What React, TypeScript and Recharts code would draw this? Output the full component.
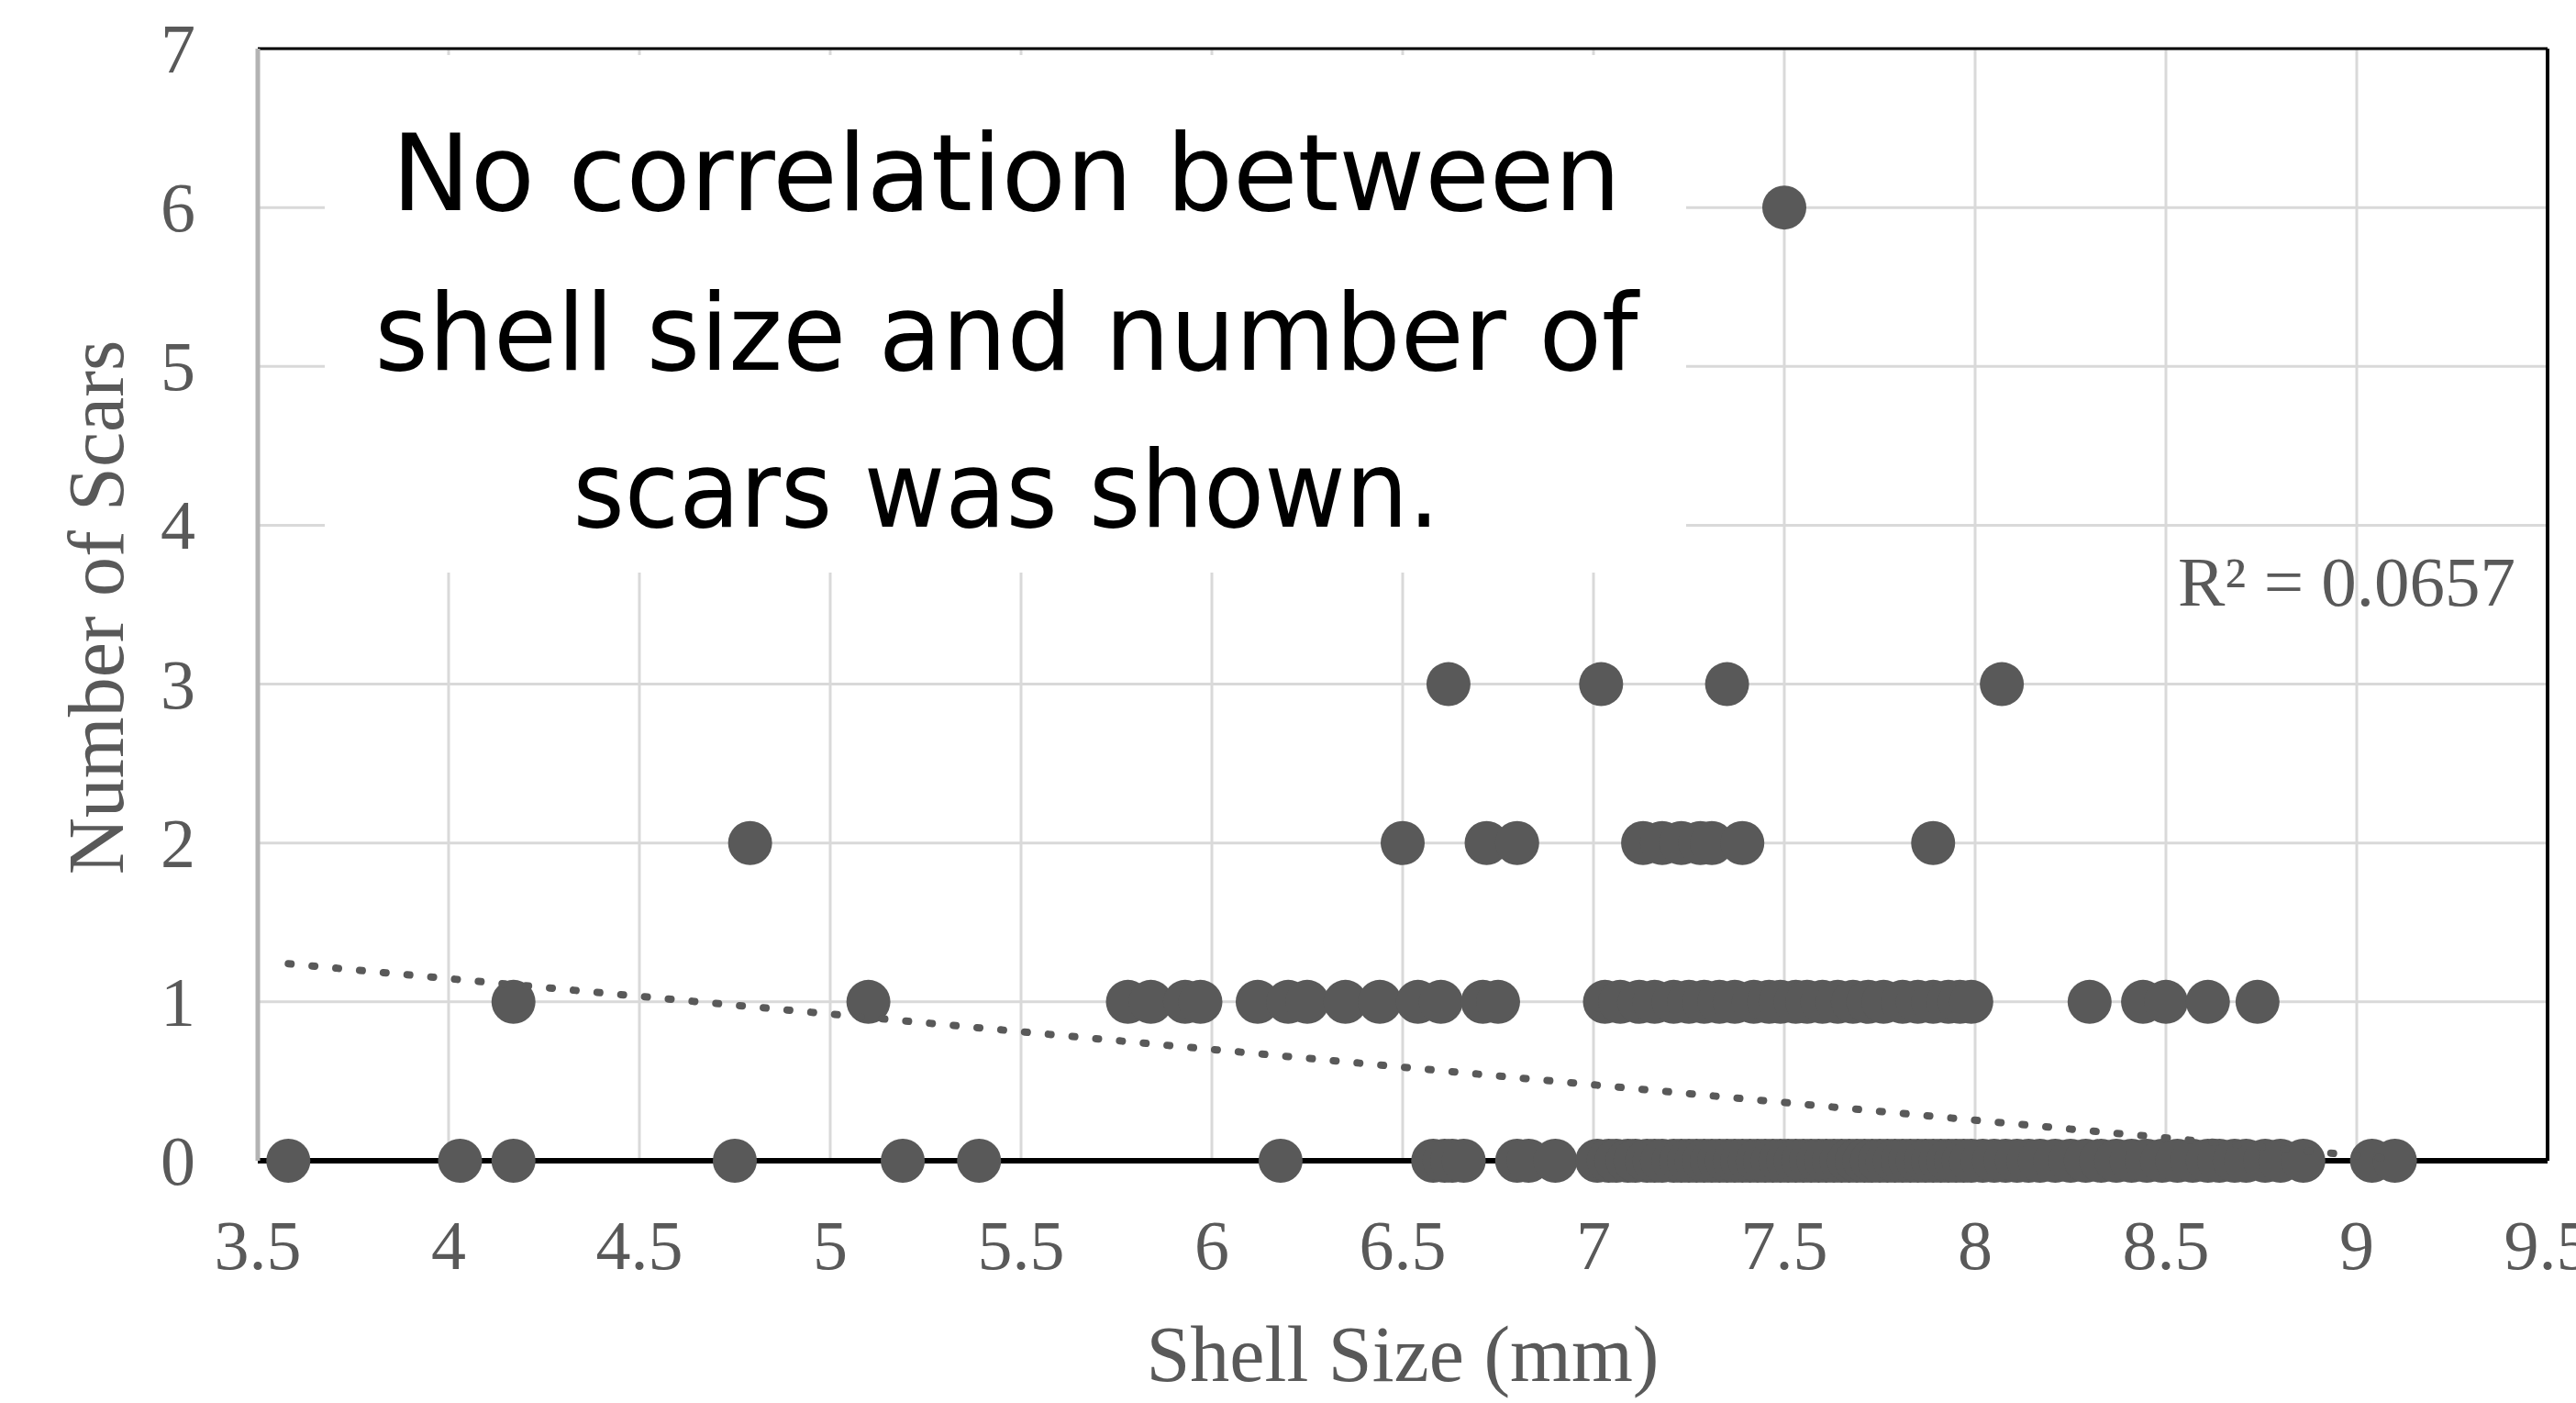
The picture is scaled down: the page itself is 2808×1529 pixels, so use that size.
import React from 'react';
import {
  ScatterChart,
  Scatter,
  XAxis,
  YAxis,
  CartesianGrid,
  ReferenceLine,
} from 'recharts';

// Shell sizes (mm) grouped by number of scars
const shellsWith0Scars: number[] = [
  3.58, 4.03, 4.17, 4.75, 5.19, 5.39, 6.18, 6.58, 6.61, 6.63, 6.66, 6.8, 6.83, 6.9,
  7.01, 7.04, 7.06, 7.09, 7.11, 7.14, 7.16, 7.18, 7.21, 7.23, 7.25, 7.27, 7.29, 7.31,
  7.33, 7.35, 7.37, 7.39, 7.41, 7.43, 7.45, 7.47, 7.49, 7.51, 7.53, 7.55, 7.57, 7.59,
  7.61, 7.63, 7.65, 7.67, 7.69, 7.71, 7.73, 7.75, 7.77, 7.79, 7.81, 7.83, 7.85, 7.87,
  7.89, 7.91, 7.93, 7.95, 7.97, 7.99, 8.02, 8.05, 8.08, 8.11, 8.14, 8.17, 8.21, 8.25,
  8.29, 8.33, 8.37, 8.41, 8.45, 8.49, 8.53, 8.57, 8.61, 8.64, 8.68, 8.71, 8.76, 8.8,
  8.86, 9.04, 9.1,
];
const shellsWith1Scar: number[] = [
  4.17, 5.1, 5.78, 5.84, 5.93, 5.97, 6.12, 6.2, 6.25, 6.35, 6.44, 6.54, 6.6, 6.71, 6.75,
  7.03, 7.07, 7.12, 7.16, 7.21, 7.25, 7.29, 7.33, 7.37, 7.42, 7.46, 7.49, 7.53, 7.56,
  7.6, 7.64, 7.68, 7.72, 7.76, 7.81, 7.85, 7.89, 7.93, 7.96, 7.99, 8.3, 8.44, 8.5, 8.61,
  8.74,
];
const shellsWith2Scars: number[] = [4.79, 6.5, 6.72, 6.8, 7.13, 7.18, 7.23, 7.28, 7.31, 7.39, 7.89];
const shellsWith3Scars: number[] = [6.62, 7.02, 7.35, 8.07];
const shellsWith6Scars: number[] = [7.5];

// Linear trendline endpoints
const trendX: number[] = [3.58, 9.1];
const trendY: number[] = [1.24, 0.01];

const xTicks: number[] = [3.5, 4, 4.5, 5, 5.5, 6, 6.5, 7, 7.5, 8, 8.5, 9, 9.5];
const yTicks: number[] = [0, 1, 2, 3, 4, 5, 6, 7];

const annotationLines: string[] = [
  'No correlation between',
  'shell size and number of',
  'scars was shown.',
];
const rSquaredText = 'R\u00B2 = 0.0657';
const xTitle = 'Shell Size (mm)';
const yTitle = 'Number of Scars';

const points = [
  ...shellsWith0Scars.map((x) => ({ x, y: 0 })),
  ...shellsWith1Scar.map((x) => ({ x, y: 1 })),
  ...shellsWith2Scars.map((x) => ({ x, y: 2 })),
  ...shellsWith3Scars.map((x) => ({ x, y: 3 })),
  ...shellsWith6Scars.map((x) => ({ x, y: 6 })),
];
const trend = trendX.map((x, i) => ({ x, y: trendY[i] }));

const GRAY = '#595959';
const SERIF = '"Liberation Serif", "Times New Roman", serif';

const XTick = (props: any) => (
  <text
    x={props.x}
    y={props.y + 118}
    textAnchor="middle"
    fontFamily={SERIF}
    fontSize={76}
    fill={GRAY}
  >
    {String(props.payload.value)}
  </text>
);

const YTick = (props: any) => (
  <text
    x={props.x - 68}
    y={props.y + 26}
    textAnchor="end"
    fontFamily={SERIF}
    fontSize={76}
    fill={GRAY}
  >
    {String(props.payload.value)}
  </text>
);

const Dot = (props: any) => <circle cx={props.cx} cy={props.cy} r={24} fill={GRAY} />;
const NoShape = () => <g />;

const annotationWidths = [1340, 1377, 945];
const annotationBaselines = [229, 403, 574];

export default function App() {
  return (
    <div style={{ position: 'relative', width: 2808, height: 1529, background: '#fff', overflow: 'hidden' }}>
      <style>{'html,body{margin:0;padding:0;overflow:hidden;background:#fff}'}</style>
      <ScatterChart
        width={2808}
        height={1529}
        margin={{ top: 53, right: 31, bottom: 0, left: 0 }}
      >
        <CartesianGrid stroke="#d9d9d9" strokeWidth={3} />
        <XAxis
          type="number"
          dataKey="x"
          domain={[3.5, 9.5]}
          ticks={xTicks}
          interval={0}
          height={264}
          tickLine={false}
          tickSize={0}
          tickMargin={0}
          tick={<XTick />}
          axisLine={{ stroke: '#000', strokeWidth: 6 }}
        />
        <YAxis
          type="number"
          dataKey="y"
          domain={[0, 7]}
          ticks={yTicks}
          interval={0}
          width={281}
          tickLine={false}
          tickSize={0}
          tickMargin={0}
          tick={<YTick />}
          axisLine={{ stroke: '#b3b3b3', strokeWidth: 5 }}
        />
        <ReferenceLine y={7} stroke="#000" strokeWidth={3} />
        <ReferenceLine x={9.5} stroke="#000" strokeWidth={4} />
        <Scatter data={points} shape={<Dot />} isAnimationActive={false} />
        <Scatter
          data={trend}
          shape={<NoShape />}
          line={{ stroke: GRAY, strokeWidth: 8, strokeDasharray: '3 23', strokeLinecap: 'round' }}
          isAnimationActive={false}
        />
      </ScatterChart>
      <svg
        width={2808}
        height={1529}
        style={{ position: 'absolute', left: 0, top: 0, pointerEvents: 'none' }}
      >
        <rect x={354} y={60} width={1484} height={564} fill="#fff" />
        {annotationLines.map((line, i) => (
          <text
            key={i}
            x={1097}
            y={annotationBaselines[i]}
            textAnchor="middle"
            fontFamily='"DejaVu Sans", sans-serif'
            fontSize={116}
            fill="#000"
            textLength={annotationWidths[i]}
            lengthAdjust="spacingAndGlyphs"
          >
            {line}
          </text>
        ))}
        <text x={2374} y={660} fontFamily={SERIF} fontSize={77} fill={GRAY}>
          {rSquaredText}
        </text>
        <text x={1529} y={1505} textAnchor="middle" fontFamily={SERIF} fontSize={86} fill={GRAY}>
          {xTitle}
        </text>
        <text
          transform="translate(134,662) rotate(-90)"
          textAnchor="middle"
          fontFamily={SERIF}
          fontSize={86}
          fill={GRAY}
        >
          {yTitle}
        </text>
      </svg>
    </div>
  );
}
